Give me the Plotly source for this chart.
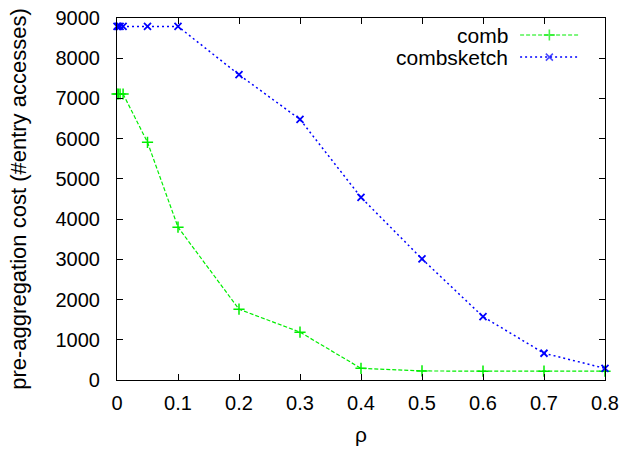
import plotly.graph_objects as go

# rho values and pre-aggregation cost per method
rho = [0, 0.002, 0.005, 0.01, 0.05, 0.1, 0.2, 0.3, 0.4, 0.5, 0.6, 0.7, 0.8]
comb = [7110, 7110, 7110, 7110, 5910, 3800, 1760, 1190, 290, 225, 220, 220, 220]
combsketch = [8790, 8790, 8790, 8790, 8790, 8790, 7590, 6480, 4540, 3010, 1575, 665, 290]

x_ticks = [0, 0.1, 0.2, 0.3, 0.4, 0.5, 0.6, 0.7, 0.8]
x_tick_text = ["0", "0.1", "0.2", "0.3", "0.4", "0.5", "0.6", "0.7", "0.8"]
y_ticks = [0, 1000, 2000, 3000, 4000, 5000, 6000, 7000, 8000, 9000]

GREEN = "#00ee00"
BLUE = "#0000ff"
FONT = "Liberation Sans, Arial, Helvetica, sans-serif"

fig = go.Figure()

fig.add_trace(go.Scatter(
    x=rho, y=comb, name="comb", mode="lines+markers",
    line=dict(color=GREEN, width=1.2, dash="4px,2px"),
    marker=dict(symbol="cross-thin", size=8, line=dict(color=GREEN, width=1.5)),
    cliponaxis=False, showlegend=False,
))
fig.add_trace(go.Scatter(
    x=rho, y=combsketch, name="combsketch", mode="lines+markers",
    line=dict(color=BLUE, width=1.5, dash="2px,3px"),
    marker=dict(symbol="x-thin", size=7, line=dict(color=BLUE, width=1.8)),
    cliponaxis=False, showlegend=False,
))

# key in the upper right, drawn on a hidden overlay axis (0..1 over the plot area)
key = [
    ("comb", 0.953, GREEN, "4px,2px", "cross-thin", 8, 1.2),
    ("combsketch", 0.892, BLUE, "2px,3px", "x-thin", 7, 1.5),
]
for label, ky, color, dash, sym, msize, lw in key:
    fig.add_trace(go.Scatter(
        x=[0.826, 0.886, 0.947], y=[ky, ky, ky], mode="lines+markers",
        xaxis="x2", yaxis="y2",
        line=dict(color=color, width=lw, dash=dash),
        marker=dict(symbol=sym, size=[0, msize, 0], line=dict(color=color, width=1.6)),
        showlegend=False, hoverinfo="skip",
    ))
    fig.add_annotation(
        x=0.805, y=ky, xref="x2", yref="y2", text=label, showarrow=False,
        xanchor="right", yanchor="middle", font=dict(family=FONT, size=21, color="black"),
    )

axis_common = dict(
    showline=True, linecolor="black", linewidth=1.2, mirror="allticks",
    ticks="inside", ticklen=6, tickwidth=1, tickcolor="black",
    showgrid=False, zeroline=False, automargin=False,
    tickfont=dict(family=FONT, size=20, color="black"),
)

fig.update_layout(
    width=625, height=450,
    margin=dict(l=117, r=20, t=18, b=70),
    paper_bgcolor="white", plot_bgcolor="white",
    xaxis=dict(
        range=[0, 0.8], tickvals=x_ticks, ticktext=x_tick_text,
        title=dict(text="ρ", font=dict(family=FONT, size=21, color="black"), standoff=14),
        ticklabelstandoff=5,
        **axis_common,
    ),
    yaxis=dict(
        range=[0, 9000], tickvals=y_ticks,
        title=dict(text="pre-aggregation cost (#entry accesses)",
                   font=dict(family=FONT, size=22, color="black"), standoff=22),
        ticklabelstandoff=12,
        **axis_common,
    ),
    xaxis2=dict(overlaying="x", range=[0, 1], visible=False),
    yaxis2=dict(overlaying="y", range=[0, 1], visible=False),
)

fig.write_html("out.html")
